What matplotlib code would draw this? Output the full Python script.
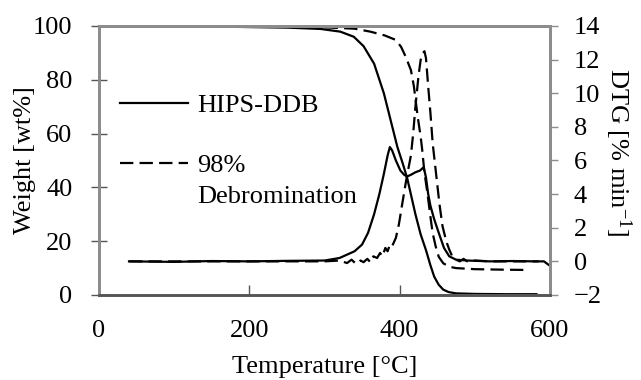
import numpy as np
import matplotlib
matplotlib.use('Agg')
import matplotlib.pyplot as plt

plt.rcParams['font.family'] = ['Liberation Serif', 'DejaVu Serif']
plt.rcParams['mathtext.fontset'] = 'custom'
plt.rcParams['mathtext.rm'] = 'Liberation Serif'
plt.rcParams['mathtext.it'] = 'Liberation Serif:italic'

# ---------------------------------------------------------------------------
# TGA data
# ---------------------------------------------------------------------------
# HIPS-DDB, weight [wt%]
t_w_hips = [40, 150, 250, 295, 321, 339, 352, 366, 379, 388, 397, 404, 410,
            421, 428, 435, 441, 446, 452, 458, 465, 475, 500, 540, 582]
w_hips = [100, 99.8, 99.4, 98.9, 97.9, 96.0, 92.5, 86.0, 75.0, 65.0, 55.0,
          49.0, 43.5, 30.0, 22.5, 16.7, 11.0, 6.8, 3.8, 2.0, 1.1, 0.6, 0.4,
          0.3, 0.3]

# 98% debromination, weight [wt%]
t_w_deb = [40, 200, 300, 340, 361, 380, 395, 402, 408, 415, 419, 421, 424,
           428, 430, 433, 437, 441, 444, 448, 452, 458, 466, 475, 500, 540, 572]
w_deb = [100, 99.9, 99.5, 99.0, 97.9, 96.5, 94.8, 92.2, 88.6, 83.6, 77.5,
         73.0, 66.3, 58.8, 54.0, 45.5, 37.8, 29.0, 22.9, 18.0, 14.2, 11.8,
         10.5, 10.0, 9.6, 9.4, 9.3]

# HIPS-DDB, DTG [% min-1]
t_d_hips = [40, 100, 150, 200, 250, 300, 320, 340, 350, 358, 366, 373, 379,
            384, 387, 390, 395, 401, 406, 410, 415, 421, 427, 432, 435, 438,
            441, 446, 452, 459, 466, 475, 490, 520, 550, 580, 592, 598]
d_hips = [0.0, -0.03, 0.02, 0.0, 0.03, 0.05, 0.2, 0.6, 1.0, 1.7, 2.8, 4.0,
          5.2, 6.3, 6.8, 6.6, 6.0, 5.4, 5.15, 5.05, 5.15, 5.3, 5.4, 5.6, 5.0,
          4.0, 3.3, 2.5, 1.7, 0.8, 0.3, 0.1, 0.05, 0.0, 0.02, 0.0, 0.0, -0.2]

# 98% debromination, DTG [% min-1]
t_d_deb = [40, 150, 250, 300, 320, 330, 336, 342, 348, 352, 357, 361, 365,
           370, 374, 377, 381, 384, 387, 390, 395, 399, 403, 409, 415, 418,
           421, 425, 428, 431, 433, 435, 438, 441, 444, 446, 450, 453, 457,
           462, 466, 470, 475, 480, 485, 490, 500, 520, 550, 585]
d_deb = [0.0, 0.0, 0.0, 0.0, 0.05, -0.1, 0.1, -0.15, 0.05, -0.05, 0.15,
         -0.05, 0.3, 0.2, 0.5, 0.3, 0.8, 0.6, 1.0, 0.9, 1.4, 2.2, 3.3, 4.9,
         6.3, 7.6, 9.2, 11.0, 12.0, 12.4, 12.5, 12.1, 10.4, 8.8, 7.0, 6.2,
         4.6, 3.4, 2.1, 1.2, 0.7, 0.3, 0.1, 0.0, 0.15, 0.0, 0.05, 0.0, 0.0, 0.0]

FS = 19
grey = '#8c8c8c'

fig = plt.figure(figsize=(6.41, 3.80), dpi=100)
ax = fig.add_axes([0.1544, 0.2237, 0.7036, 0.7079])
ax2 = ax.twinx()

lw = 1.6
dash = (6, 2.8)
l1, = ax.plot(t_w_hips, w_hips, color='k', lw=lw, label='HIPS-DDB')
l2, = ax.plot(t_w_deb, w_deb, color='k', lw=lw, dashes=dash, label='98%')
ax2.plot(t_d_hips, d_hips, color='k', lw=lw)
ax2.plot(t_d_deb, d_deb, color='k', lw=lw, dashes=dash)

ax.set_xlim(0, 600)
ax.set_ylim(0, 100)
ax2.set_ylim(-2, 14)
ax.set_xticks([0, 200, 400, 600])
ax.set_yticks(np.arange(0, 101, 20))
ax2.set_yticks(np.arange(-2, 15, 2))

for name, sp in ax.spines.items():
    sp.set_color(grey)
    sp.set_linewidth(2)
for name, sp in ax2.spines.items():
    sp.set_color(grey)
    sp.set_linewidth(2)
ax2.spines['bottom'].set_color('#555555')

ax.tick_params(axis='y', direction='inout', length=11, width=1, color='#555555',
               labelsize=FS, pad=13.5)
ax.tick_params(axis='x', direction='in', length=7, width=1, color='#555555',
               labelsize=FS, pad=18)
ax2.tick_params(axis='y', direction='out', length=6, width=1, color=grey,
                labelsize=FS, pad=11)

ax.set_xlabel('Temperature [°C]', fontsize=FS, labelpad=10)
ax.set_ylabel('Weight [wt%]', fontsize=FS, labelpad=-2)
ax2.set_ylabel(r'DTG [% min$^{-1}$]', fontsize=FS, rotation=270, labelpad=23)
ax2.yaxis.label.set_y(0.53)

ax.legend(handles=[l1, l2], loc='upper left', bbox_to_anchor=(0.046, 0.748),
          frameon=False, fontsize=FS, borderpad=0, borderaxespad=0,
          handlelength=2.6, handletextpad=0.35, labelspacing=1.38)
ax.text(0.217, 0.365, 'Debromination', transform=ax.transAxes, fontsize=FS,
        va='center', ha='left')

fig.savefig('out.png', dpi=100)
